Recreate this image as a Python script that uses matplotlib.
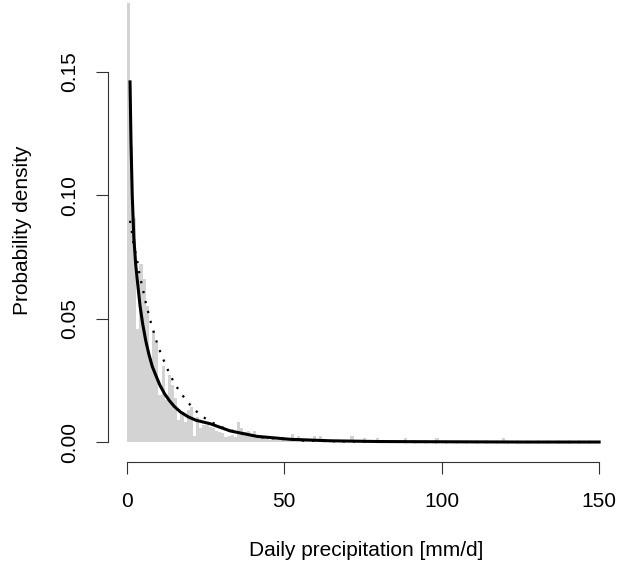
import numpy as np
import matplotlib
matplotlib.use('Agg')
import matplotlib.pyplot as plt

# ================= data =================
# histogram of daily precipitation, 1 mm/d bins starting at 0
bin_width = 1.0
hist_density = [
    0.178, 0.120, 0.091, 0.046, 0.072, 0.066, 0.055, 0.034, 0.045, 0.040,
    0.019, 0.031, 0.017, 0.027, 0.023, 0.018, 0.009, 0.012, 0.008, 0.013,
    0.014, 0.0025, 0.010, 0.0055, 0.007, 0.0068, 0.0062, 0.0055, 0.0045, 0.004,
    0.0035, 0.002, 0.0025, 0.003, 0.002, 0.0082, 0.0058, 0.004, 0.0045, 0.003,
    0.0045, 0.002, 0.002, 0.0015, 0.002, 0.001, 0.0015, 0.001, 0.001, 0.001,
    0.0015, 0.001, 0.0031, 0.001, 0.0024, 0.001, 0.0008, 0.001, 0.0005, 0.0024,
    0.0008, 0.0024, 0.0008, 0.0005, 0.0005, 0.0008, 0.0005, 0.0005, 0.0005, 0.0005,
    0.0005, 0.0024, 0.0005, 0.0005, 0.0003, 0.0018, 0.0005, 0.0003, 0.0003, 0.0018,
    0.0003, 0.0003, 0.0003, 0.0003, 0.0003, 0.0003, 0.0003, 0.0003, 0.0018, 0.0003,
    0.0003, 0.0003, 0.0003, 0.0003, 0.0003, 0.0003, 0.0003, 0.0003, 0.0018, 0.0003,
    0.0, 0.0003, 0.0, 0.0, 0.0003, 0.0, 0.0, 0.0, 0.0003, 0.0,
    0.0, 0.0, 0.0, 0.0, 0.0003, 0.0, 0.0, 0.0, 0.0, 0.0018,
]

# fitted density (solid)
fit_x = [1.0, 1.3, 1.7, 2.2, 2.8, 3.4, 4.2, 5.0, 6.0, 7.0, 8.1, 9.2, 10.5,
         12.0, 13.5, 15.0, 17.0, 19.5, 22.0, 26.5, 32.8, 41.3, 51.9, 64.6,
         80.0, 100.0, 125.0, 150.0]
fit_y = [0.146, 0.122, 0.100, 0.083, 0.072, 0.0645, 0.055, 0.048, 0.041, 0.0355,
         0.0305, 0.027, 0.023, 0.0195, 0.0168, 0.0145, 0.0122, 0.0102, 0.0088,
         0.0074, 0.0045, 0.0023, 0.0011, 0.0005, 0.0002, 0.0001, 0.0, 0.0]

# second fitted density (dotted)
exp_x = [1.0, 1.6, 2.1, 3.6, 4.1, 5.0, 5.7, 6.6, 7.5, 8.5, 9.5, 10.7, 12.1,
         13.5, 15.1, 17.0, 19.1, 21.2, 24.0, 26.7, 29.6, 36.0, 42.9, 55.0,
         70.0, 90.0, 120.0, 150.0]
exp_y = [0.0897, 0.085, 0.0805, 0.0715, 0.067, 0.0627, 0.058, 0.0535, 0.049,
         0.0447, 0.0404, 0.0362, 0.0319, 0.0278, 0.0238, 0.0200, 0.0166, 0.0134,
         0.0103, 0.0082, 0.0062, 0.0035, 0.0019, 0.0006, 0.0002, 0.0, 0.0, 0.0]

x_ticks = [0, 50, 100, 150]
y_ticks = [0.00, 0.05, 0.10, 0.15]

# ================= plot =================
plt.rcParams['font.family'] = ['Liberation Sans', 'DejaVu Sans']

W, H = 619, 576
fig = plt.figure(figsize=(W / 100, H / 100), dpi=100)
# plot region in pixels: x 108..618, y 0..462 (from top)
ax = fig.add_axes([108 / W, (H - 462) / H, 510 / W, 462 / H])

edges = np.arange(len(hist_density)) * bin_width
ax.bar(edges, hist_density, width=bin_width, align='edge',
       color='lightgray', linewidth=0, zorder=1)

ax.plot(exp_x, exp_y, color='black', linewidth=1.6,
        linestyle=(0, (1, 3.6)), dash_capstyle='butt', zorder=2)
ax.plot(fit_x, fit_y, color='black', linewidth=2.2, zorder=3)

ax.set_xlim(-6, 156)
ax.set_ylim(-0.0081, 0.1792)

for side in ['top', 'right']:
    ax.spines[side].set_visible(False)
ax.spines['left'].set_bounds(0, 0.15)
ax.spines['bottom'].set_bounds(0, 150)
for side in ['left', 'bottom']:
    ax.spines[side].set_linewidth(0.8)
    ax.spines[side].set_color('#333333')

ax.set_xticks(x_ticks)
ax.set_xticklabels([str(v) for v in x_ticks])
ax.set_yticks(y_ticks)
ax.set_yticklabels([f'{v:.2f}' for v in y_ticks])
ax.tick_params(direction='out', length=8.6, width=0.8, color='#333333',
               labelsize=15)
ax.tick_params(axis='x', pad=13)
ax.tick_params(axis='y', pad=12)
for lab in ax.get_yticklabels():
    lab.set_rotation(90)
    lab.set_va('center')

ax.set_xlabel('Daily precipitation [mm/d]', fontsize=15, va='center')
ax.xaxis.set_label_coords(0.506, -0.1926)
ax.set_ylabel('Probability density', fontsize=15, va='center')
ax.yaxis.set_label_coords(-0.1686, 0.502)

fig.savefig('out.png', dpi=100)
